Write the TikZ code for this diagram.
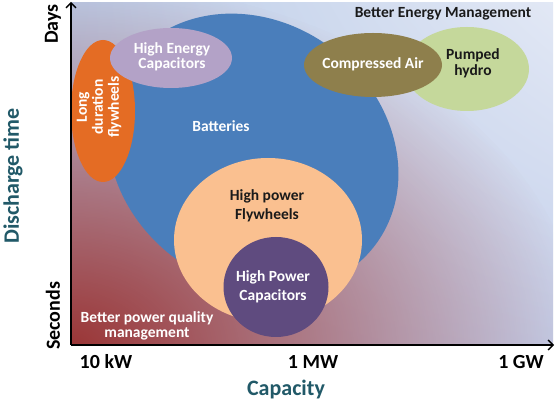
\documentclass[tikz,border=0pt]{standalone}
\usepackage{fontspec}
\setmainfont{Carlito}
\usetikzlibrary{shapes.geometric,arrows.meta,fadings,shadings}
\definecolor{bgUL}{HTML}{BACBE7}
\definecolor{bgUR}{HTML}{E2E8F5}
\definecolor{bgLL}{HTML}{BFCBE7}
\definecolor{bgLR}{HTML}{C4D0EB}
\definecolor{bgred}{HTML}{9A3434}
\definecolor{batblue}{HTML}{4A7EBB}
\definecolor{ldorange}{HTML}{E46C24}
\definecolor{heclav}{HTML}{B3A2C7}
\definecolor{phgreen}{HTML}{C5D89B}
\definecolor{caolive}{HTML}{8E7F4C}
\definecolor{hpfpeach}{HTML}{FAC090}
\definecolor{hpcpurple}{HTML}{5F4B7F}
\definecolor{txtdark}{HTML}{1A1A1A}
\definecolor{tealtxt}{HTML}{215968}
\tikzfading[name=redfade, inner color=transparent!0, outer color=transparent!100]
\begin{document}
\begin{tikzpicture}[x=1pt,y=-1pt,
 blob/.style={ellipse, inner sep=0pt, outer sep=0pt, draw=none},
 lbl/.style={font=\bfseries\fontsize{15.5}{16}\selectfont, align=center, inner sep=0pt},
 wlbl/.style={lbl, text=white},
 dlbl/.style={lbl, text=txtdark},
 ticklbl/.style={font=\bfseries\fontsize{20}{22}\selectfont, text=black, inner sep=0pt},
 axtitle/.style={font=\bfseries\fontsize{22}{24}\selectfont, text=tealtxt, inner sep=0pt},
 axisline/.style={line width=1.6pt, -{Straight Barb[length=5pt,width=10pt,line width=1.3pt]}}]
\useasboundingbox (0,0) rectangle (555,403);
\fill[white] (0,0) rectangle (555,403);
\coordinate (bgA) at (71,3);
\coordinate (bgB) at (553,345);
\shade[upper left=bgUL, upper right=bgUR, lower left=bgLL, lower right=bgLR] (bgA) rectangle (bgB);
\begin{scope}
\clip (bgA) rectangle (bgB);
\fill[bgred, path fading=redfade] (66,350) ellipse [x radius=520pt, y radius=370pt];
\end{scope}
% shapes
\node[blob, fill=batblue, rotate=-37, minimum width=306pt, minimum height=262pt] (bat) at (253,153) {};
\node[blob, fill=ldorange, minimum width=64pt, minimum height=142pt] (ldf) at (103,111) {};
\node[blob, fill=heclav, minimum width=122pt, minimum height=60pt] (hec) at (171,58) {};
\node[blob, fill=phgreen, minimum width=124pt, minimum height=84pt] (ph) at (467,69) {};
\node[blob, fill=caolive, minimum width=138pt, minimum height=64pt] (ca) at (373,65) {};
\node[blob, fill=hpfpeach, minimum width=188pt, minimum height=164pt] (hpf) at (268,240) {};
\node[blob, fill=hpcpurple, minimum width=105pt, minimum height=100pt] (hpc) at (276,287) {};
% labels
\node[wlbl] (tbat) at (221,126) {Batteries};
\node[wlbl, rotate=90] (tldf) at (99,107) {Long\\duration\\flywheels};
\node[wlbl, font=\bfseries\fontsize{15.5}{15}\selectfont] (thec) at (172,57) {High Energy\\Capacitors};
\node[wlbl] (tca) at (373,64) {Compressed Air};
\node[dlbl] (tph) at (473,63) {Pumped\\hydro};
\node[dlbl, font=\bfseries\fontsize{15.5}{19}\selectfont] (thpf) at (267,206) {High power\\Flywheels};
\node[wlbl, font=\bfseries\fontsize{15.5}{19}\selectfont] (thpc) at (273,287) {High Power\\Capacitors};
\node[dlbl] (tbem) at (443,14) {Better Energy Management};
\node[wlbl, font=\bfseries\fontsize{15.5}{14.5}\selectfont] (tbpq) at (147,326) {Better power quality\\management};
% axis labels
\node[ticklbl] (t10k) at (106,362) {10 kW};
\node[ticklbl] (t1m) at (313,362) {1 MW};
\node[ticklbl] (t1g) at (521,362) {1 GW};
\node[axtitle] (xcap) at (286,390) {Capacity};
\node[axtitle, rotate=90] (ydis) at (13,176) {Discharge time};
\node[ticklbl, rotate=90] (ydays) at (53,24) {Days};
\node[ticklbl, rotate=90] (ysec) at (53,316) {Seconds};
% axes
\coordinate (O) at (71,345);
\coordinate (ytop) at (71,2);
\coordinate (xend) at (554,345);
\draw[axisline] (O) -- (ytop);
\draw[axisline] (O) -- (xend);
\end{tikzpicture}
\end{document}
